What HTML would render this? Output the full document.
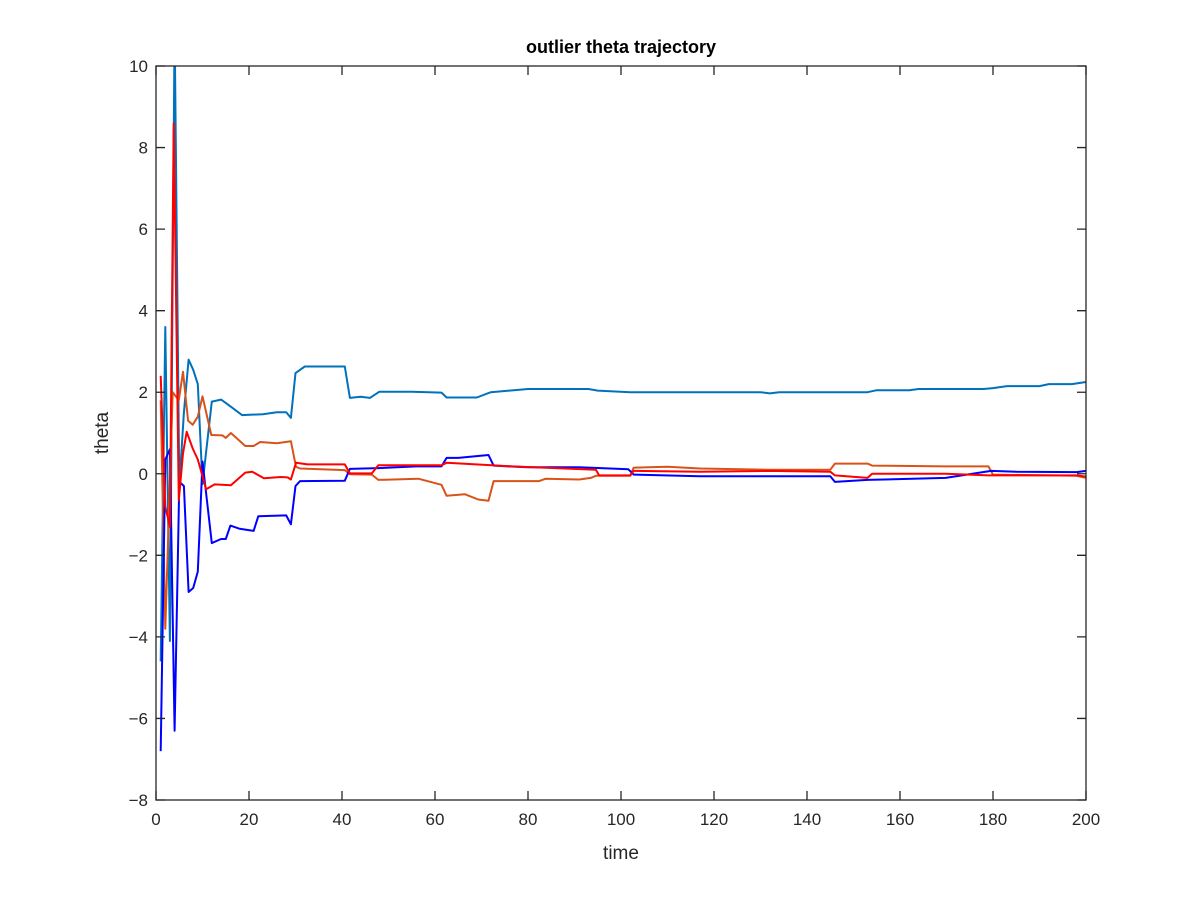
<!DOCTYPE html>
<html><head><meta charset="utf-8"><style>
html,body{margin:0;padding:0;background:#fff;}
svg text{font-family:"Liberation Sans",Helvetica,sans-serif;fill:#262626;}
</style></head><body>
<svg id="chart" width="1200" height="900" xmlns="http://www.w3.org/2000/svg">
<rect x="0" y="0" width="1200" height="900" fill="#fff"/>
<defs><clipPath id="plotclip"><rect x="156" y="66" width="930" height="734"/></clipPath></defs>
<g id="grid"></g>
<g id="series" clip-path="url(#plotclip)"></g>
<rect x="156" y="66" width="930" height="734" fill="none" stroke="#262626" stroke-width="1.3"/>
<g id="ticks"></g>
<text x="621" y="53" text-anchor="middle" font-size="18" font-weight="bold" style="fill:#000">outlier theta trajectory</text>
<text x="621" y="859" text-anchor="middle" font-size="19">time</text>
<text x="108" y="433" text-anchor="middle" font-size="19" transform="rotate(-90 108 433)">theta</text>
</svg>
<script>
const xTicks=[0,20,40,60,80,100,120,140,160,180,200];
const yTicks=[-8,-6,-4,-2,0,2,4,6,8,10];
const yTickLabels=["\u22128","\u22126","\u22124","\u22122","0","2","4","6","8","10"];
const tealT=[1,2,3,4,5,6,7,8,9,10,12,14,16.5,18.5,23,26,28,29,30,32,40.6,41.7,44,46,48,55,61.4,62.5,69,72,80,93,95,102,130,132,134,153,155,162,164,178,180,183,190,192,197,200];
const tealY=[-4.6,3.6,-4.1,11,-0.3,1.5,2.8,2.55,2.2,-0.25,1.77,1.82,1.61,1.44,1.46,1.51,1.51,1.37,2.47,2.63,2.63,1.86,1.89,1.86,2.01,2.01,1.99,1.87,1.87,2.0,2.08,2.08,2.04,2.0,2.0,1.97,2.0,2.0,2.05,2.05,2.08,2.08,2.1,2.15,2.15,2.2,2.2,2.25];
const orangeT=[1,2,3.6,4.9,5.8,6.9,7.9,9,10,11.9,14.3,15,16.1,19.2,21,22.4,26,29,30.1,31,40.6,41.7,46.4,47.8,56.4,61.4,62.5,66.4,69.3,71.5,72.6,82.4,83.8,91,93.5,94.6,102,102.7,110,117,131.6,145,146,153,154,169.8,179,180,198,200];
const orangeY=[1.8,-3.8,2.0,1.8,2.5,1.3,1.2,1.4,1.9,0.95,0.94,0.88,1.0,0.68,0.68,0.78,0.75,0.8,0.17,0.13,0.09,-0.01,-0.02,-0.15,-0.12,-0.27,-0.54,-0.5,-0.63,-0.66,-0.18,-0.18,-0.12,-0.14,-0.1,-0.05,-0.05,0.15,0.17,0.13,0.1,0.1,0.25,0.25,0.2,0.18,0.18,-0.02,-0.05,-0.1];
const blueT=[1,2,3,4,5,6,7,8,9,10,12,14,15,16,18,21,22,28,29,30,31,40.6,41.7,47.8,56,61.4,62.5,65,71.5,72.6,80,91,101.6,102.7,117,131.6,145,146,153,169.8,179.6,185,198,200];
const blueY=[-6.8,0.35,0.6,-6.3,-0.2,-0.3,-2.9,-2.8,-2.4,0.3,-1.7,-1.6,-1.6,-1.27,-1.35,-1.4,-1.04,-1.02,-1.24,-0.3,-0.18,-0.17,0.12,0.14,0.18,0.18,0.39,0.39,0.46,0.2,0.16,0.16,0.11,-0.02,-0.06,-0.06,-0.06,-0.2,-0.15,-0.1,0.07,0.05,0.04,0.07];
const redT=[1,2,3,3.8,4.9,5.8,6.6,7.9,9,10.8,12.6,16.1,19.2,20.7,23.2,26.8,28.3,29,30.1,32.6,40.6,41.7,46.4,47.8,61.4,62.5,72.2,76.5,94.6,95.3,102,102.7,117,131.6,145,146,153,154,169.8,179,198,200];
const redY=[2.4,-0.8,-1.3,8.6,-0.65,0.5,1.03,0.62,0.35,-0.38,-0.26,-0.28,0.03,0.05,-0.11,-0.08,-0.09,-0.14,0.27,0.23,0.23,0.01,0.01,0.21,0.21,0.27,0.21,0.18,0.1,-0.04,-0.04,0.07,0.05,0.07,0.05,-0.04,-0.1,0.0,0.0,-0.04,-0.04,-0.07];

const X0=156,X1=1086,Y0=800,Y1=66,XMIN=0,XMAX=200,YMIN=-8,YMAX=10;
function xs(v){return X0+(v-XMIN)/(XMAX-XMIN)*(X1-X0);}
function ys(v){return Y0-(v-YMIN)/(YMAX-YMIN)*(Y0-Y1);}
const NS="http://www.w3.org/2000/svg";
const tg=document.getElementById('ticks');
xTicks.forEach(function(t){
  const x=xs(t);
  const l=document.createElementNS(NS,'path');
  l.setAttribute('d','M'+x+' '+Y0+'V'+(Y0-9)+'M'+x+' '+Y1+'V'+(Y1+9));
  l.setAttribute('stroke','#262626');l.setAttribute('stroke-width','1.3');
  
  
  tg.appendChild(l);
  const tx=document.createElementNS(NS,'text');
  tx.setAttribute('x',x);tx.setAttribute('y',Y0+25);tx.setAttribute('text-anchor','middle');tx.setAttribute('font-size','17');
  tx.textContent=String(t);
  
  
  tg.appendChild(tx);
});
yTicks.forEach(function(t,i){
  const y=ys(t);
  const l=document.createElementNS(NS,'path');
  l.setAttribute('d','M'+X0+' '+y+'H'+(X0+9)+'M'+X1+' '+y+'H'+(X1-9));
  l.setAttribute('stroke','#262626');l.setAttribute('stroke-width','1.3');
  
  
  tg.appendChild(l);
  const tx=document.createElementNS(NS,'text');
  tx.setAttribute('x',X0-8);tx.setAttribute('y',y+6);tx.setAttribute('text-anchor','end');tx.setAttribute('font-size','17');
  tx.textContent=yTickLabels[i];
  
  
  tg.appendChild(tx);
});
const sg=document.getElementById('series');
function drawLine(T,Y,color,name){
  const p=document.createElementNS(NS,'polyline');
  p.setAttribute('points',T.map(function(t,i){return xs(t).toFixed(1)+','+ys(Y[i]).toFixed(1);}).join(' '));
  p.setAttribute('fill','none');p.setAttribute('stroke',color);p.setAttribute('stroke-width','2');p.setAttribute('stroke-linejoin','round');
  
  
  sg.appendChild(p);
}
drawLine(tealT,tealY,'#0072BD','theta-1-line');
drawLine(orangeT,orangeY,'#D95319','theta-2-line');
drawLine(blueT,blueY,'#0000FF','theta-3-line');
drawLine(redT,redY,'#FF0000','theta-4-line');
</script>
</body></html>
